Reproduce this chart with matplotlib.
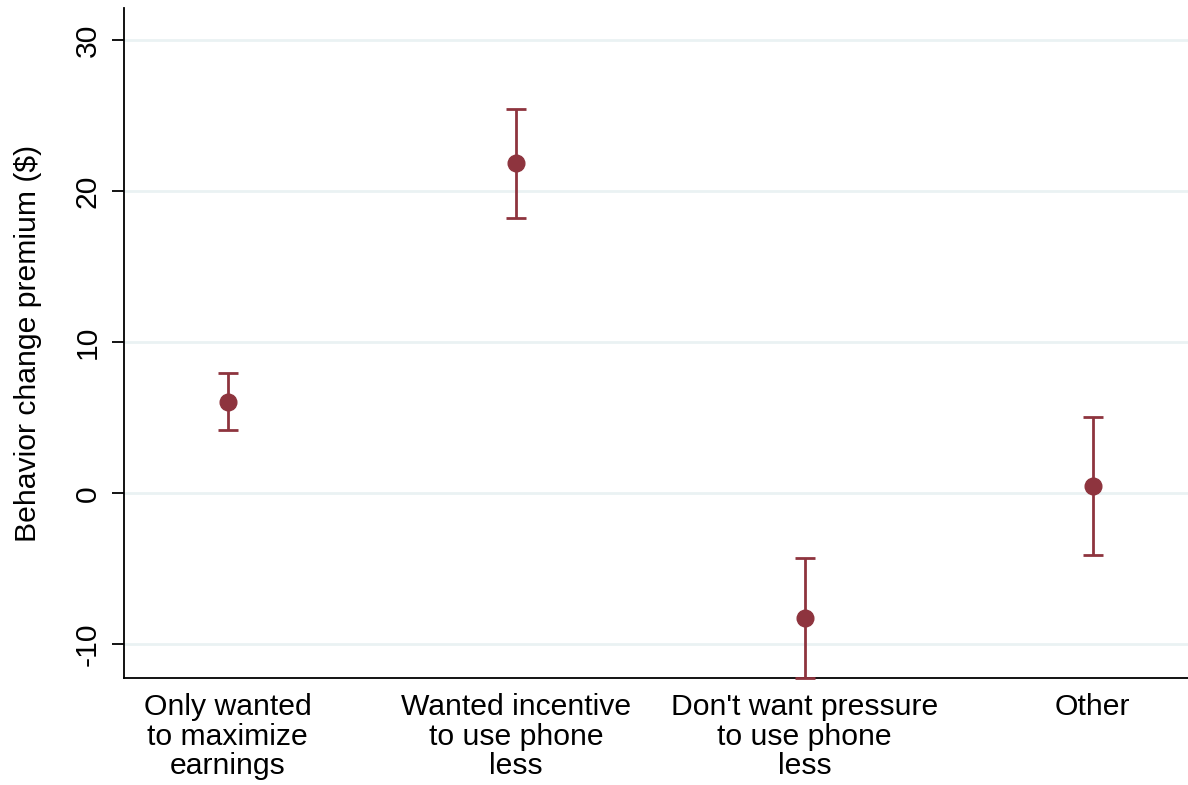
import matplotlib
matplotlib.use("Agg")
import matplotlib.pyplot as plt
import numpy as np

# reasons for wanting the incentive
categories = ["Only wanted\nto maximize\nearnings",
              "Wanted incentive\nto use phone\nless",
              "Don't want pressure\nto use phone\nless",
              "Other"]
premium = [6.05, 21.85, -8.28, 0.48]
ci_low = [4.19, 18.23, -12.21, -4.07]
ci_high = [7.97, 25.45, -4.26, 5.05]
yticks = [-10, 0, 10, 20, 30]

plt.rcParams['font.family'] = ['Liberation Sans', 'DejaVu Sans']
maroon = "#8E343E"

fig = plt.figure(figsize=(11.88, 7.85), dpi=100)
ax = fig.add_axes([0.1044, 0.1367, 0.8956, 0.8527])

x = np.arange(1, len(categories) + 1)
p = np.array(premium)
err = [p - np.array(ci_low), np.array(ci_high) - p]
ax.errorbar(x, p, yerr=err, fmt="o", color=maroon, ecolor=maroon,
            markersize=12, elinewidth=2, capsize=7.5, capthick=2,
            clip_on=False, zorder=3)

ax.set_xlim(0.64, 4.33)
ax.set_ylim(-12.21, 32.1)
ax.set_yticks(yticks)
ax.set_yticklabels([str(t) for t in yticks], rotation=90, va="center", fontsize=21.7)
ax.set_xticks(x)
ax.set_xticklabels(categories, fontsize=21.7, linespacing=1.07)
ax.tick_params(axis="x", length=0, pad=11)
ax.tick_params(axis="y", length=9, width=1.3, pad=7)
ax.set_ylabel("Behavior change premium ($)", fontsize=21.7, labelpad=23)

ax.grid(axis="y", color="#EAF2F3", linewidth=2)
ax.set_axisbelow(True)
for s in ["top", "right"]:
    ax.spines[s].set_visible(False)
ax.spines["left"].set_linewidth(1.3)
ax.spines["bottom"].set_linewidth(1.3)

plt.savefig("out.png", dpi=100)
